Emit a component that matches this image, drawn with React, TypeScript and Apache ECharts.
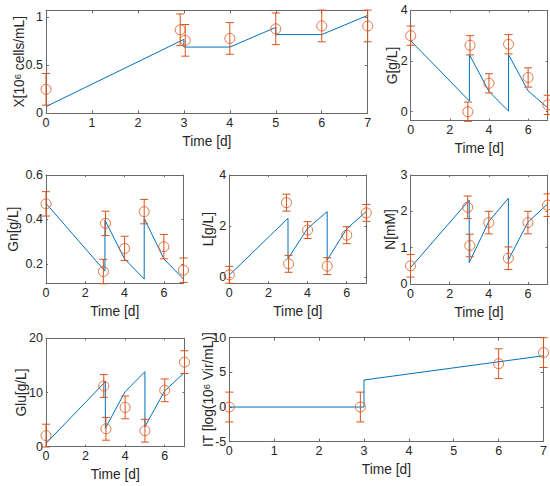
import React, { useEffect, useRef } from "react";
import * as echarts from "echarts";

// ---------- data ----------
const T_MODEL = [0, 3, 3, 4, 5, 5, 6, 7];
const T_OBS = [0, 2.92, 3.03, 4, 5, 6, 7];

const X_MODEL = [0.07, 0.77, 0.69, 0.69, 0.895, 0.82, 0.82, 1.02];
const X_OBS = [0.25, 0.87, 0.76, 0.78, 0.88, 0.91, 0.91];
const X_ERR = [0.165, 0.165, 0.165, 0.165, 0.165, 0.165, 0.165];

const G_MODEL = [2.8, 0.42, 2.25, 0.8, 0.02, 2.25, 0.82, 0.15];
const G_OBS = [3.0, 0.0, 2.62, 1.12, 2.66, 1.35, 0.27];
const G_ERR = [0.38, 0.38, 0.38, 0.38, 0.38, 0.38, 0.38];

const GN_MODEL = [0.472, 0.167, 0.397, 0.222, 0.131, 0.405, 0.222, 0.131];
const GN_OBS = [0.47, 0.165, 0.382, 0.269, 0.435, 0.277, 0.171];
const GN_ERR = [0.055, 0.055, 0.055, 0.055, 0.055, 0.055, 0.055];

const L_MODEL = [0.09, 2.31, 0.74, 1.91, 2.57, 0.68, 1.9, 2.57];
const L_OBS = [0.1, 2.92, 0.53, 1.85, 0.44, 1.65, 2.52];
const L_ERR = [0.33, 0.33, 0.33, 0.33, 0.33, 0.33, 0.33];

const N_MODEL = [0.45, 2.31, 0.59, 1.72, 2.36, 0.66, 1.7, 2.2];
const N_OBS = [0.5, 2.11, 1.06, 1.69, 0.71, 1.69, 2.17];
const N_ERR = [0.31, 0.31, 0.31, 0.31, 0.31, 0.31, 0.31];

const GLU_MODEL = [0.6, 12.0, 3.4, 10.15, 13.85, 3.7, 10.3, 13.7];
const GLU_OBS = [2.05, 11.2, 3.3, 7.25, 2.95, 10.4, 15.6];
const GLU_ERR = [2.1, 2.1, 2.1, 2.1, 2.1, 2.1, 2.1];

const T_IT_MODEL = [0, 3, 3, 7];
const IT_MODEL = [0, 0, 3.9, 7.4];
const T_IT_OBS = [0, 2.92, 6, 7];
const IT_OBS = [0, 0, 6.25, 7.85];
const IT_ERR = [2.15, 2.15, 2.15, 2.15];

const X_TICKS_FULL = [0, 1, 2, 3, 4, 5, 6, 7];
const X_TICKS_HALF = [0, 2, 4, 6];

const BLUE = "#0072BD";
const ORANGE = "#D95319";
const TEXT = "#262626";
const FRAME = "#6a6a6a";
const FONT = "Liberation Sans, Arial, Helvetica, sans-serif";

type Panel = {
  left: number; top: number; width: number; height: number;
  ymin: number; ymax: number; yTicks: number[]; xTicks: number[];
  yName: string; yGap: number; tickLen: number;
  tModel: number[]; yModel: number[]; tObs: number[]; yObs: number[]; err: number[];
};

const PANELS: Panel[] = [
  { left: 46, top: 10.3, width: 321.7, height: 103, ymin: 0, ymax: 1.073, yTicks: [0, 0.5, 1], xTicks: X_TICKS_FULL,
    yName: "X[10{sup|6} cells/mL]", yGap: 20, tickLen: 3,
    tModel: T_MODEL, yModel: X_MODEL, tObs: T_OBS, yObs: X_OBS, err: X_ERR },
  { left: 410.7, top: 10.3, width: 137, height: 110.4, ymin: -0.355, ymax: 4, yTicks: [0, 2, 4], xTicks: X_TICKS_HALF,
    yName: "G[g/L]", yGap: 11, tickLen: 2,
    tModel: T_MODEL, yModel: G_MODEL, tObs: T_OBS, yObs: G_OBS, err: G_ERR },
  { left: 46, top: 175, width: 137.5, height: 108.3, ymin: 0.112, ymax: 0.6, yTicks: [0.2, 0.4, 0.6], xTicks: X_TICKS_HALF,
    yName: "Gn[g/L]", yGap: 26, tickLen: 2,
    tModel: T_MODEL, yModel: GN_MODEL, tObs: T_OBS, yObs: GN_OBS, err: GN_ERR },
  { left: 229.3, top: 175, width: 137, height: 108.3, ymin: -0.23, ymax: 4, yTicks: [0, 2, 4], xTicks: X_TICKS_HALF,
    yName: "L[g/L]", yGap: 14, tickLen: 2,
    tModel: T_MODEL, yModel: L_MODEL, tObs: T_OBS, yObs: L_OBS, err: L_ERR },
  { left: 410.5, top: 175, width: 137, height: 109, ymin: 0, ymax: 3, yTicks: [0, 1, 2, 3], xTicks: X_TICKS_HALF,
    yName: "N[mM]", yGap: 13, tickLen: 2,
    tModel: T_MODEL, yModel: N_MODEL, tObs: T_OBS, yObs: N_OBS, err: N_ERR },
  { left: 46, top: 338.3, width: 138.5, height: 108.4, ymin: 0, ymax: 20, yTicks: [0, 10, 20], xTicks: X_TICKS_HALF,
    yName: "Glu[g/L]", yGap: 18, tickLen: 2,
    tModel: T_MODEL, yModel: GLU_MODEL, tObs: T_OBS, yObs: GLU_OBS, err: GLU_ERR },
  { left: 229.3, top: 337.7, width: 316.4, height: 104, ymin: -5, ymax: 10, yTicks: [-5, 0, 5, 10], xTicks: X_TICKS_FULL,
    yName: "IT [log(10{sup|6} Vir/mL)]", yGap: 14, tickLen: 3,
    tModel: T_IT_MODEL, yModel: IT_MODEL, tObs: T_IT_OBS, yObs: IT_OBS, err: IT_ERR },
];

function buildOption() {
  const grid: any[] = [];
  const xAxis: any[] = [];
  const yAxis: any[] = [];
  const series: any[] = [];

  PANELS.forEach((p, i) => {
    grid.push({ left: p.left, top: p.top, width: p.width, height: p.height, containLabel: false });
    const lineStyle = { color: FRAME, width: 1 };
    const tick = (vals: number[]) => ({ show: true, inside: true, length: p.tickLen, customValues: vals, lineStyle: { color: FRAME, width: 1 } });
    xAxis.push({
      type: "value", gridIndex: i, min: 0, max: 7, position: "bottom",
      axisLine: { show: true, onZero: false, lineStyle },
      axisTick: tick(p.xTicks),
      axisLabel: { show: true, customValues: p.xTicks, margin: 3, color: TEXT, fontSize: 12.5, fontFamily: FONT },
      splitLine: { show: false },
      name: "Time [d]", nameLocation: "middle", nameGap: 21, nameMoveOverlap: false,
      nameTextStyle: { color: TEXT, fontSize: 13.75, fontFamily: FONT },
    });
    xAxis.push({
      type: "value", gridIndex: i, min: 0, max: 7, position: "top",
      axisLine: { show: true, onZero: false, lineStyle },
      axisTick: tick(p.xTicks),
      axisLabel: { show: false },
      splitLine: { show: false },
    });
    yAxis.push({
      type: "value", gridIndex: i, min: p.ymin, max: p.ymax, position: "left",
      axisLine: { show: true, onZero: false, lineStyle },
      axisTick: tick(p.yTicks),
      axisLabel: { show: true, customValues: p.yTicks, margin: 3, color: TEXT, fontSize: 12.5, fontFamily: FONT },
      splitLine: { show: false },
      name: p.yName, nameLocation: "middle", nameGap: p.yGap, nameMoveOverlap: false,
      nameTextStyle: {
        color: TEXT, fontSize: 13.75, fontFamily: FONT,
        rich: { sup: { fontSize: 9.5, fontFamily: FONT, color: TEXT, verticalAlign: "top", lineHeight: 10 } },
      },
    });
    yAxis.push({
      type: "value", gridIndex: i, min: p.ymin, max: p.ymax, position: "right",
      axisLine: { show: true, onZero: false, lineStyle },
      axisTick: tick(p.yTicks),
      axisLabel: { show: false },
      splitLine: { show: false },
    });

    series.push({
      type: "line", xAxisIndex: 2 * i, yAxisIndex: 2 * i,
      data: p.tModel.map((t, k) => [t, p.yModel[k]]),
      showSymbol: false, symbol: "none",
      lineStyle: { color: BLUE, width: 1 },
      silent: true, z: 2,
    });
    series.push({
      type: "custom", xAxisIndex: 2 * i, yAxisIndex: 2 * i,
      data: p.tObs.map((t, k) => [t, p.yObs[k], p.err[k]]),
      renderItem: (_params: any, api: any) => {
        const x = api.value(0), y = api.value(1), e = api.value(2);
        const a = api.coord([x, y + e]);
        const b = api.coord([x, y - e]);
        const hw = 4;
        const st = { stroke: ORANGE, lineWidth: 1, fill: "none" };
        return {
          type: "group",
          children: [
            { type: "line", shape: { x1: a[0], y1: a[1], x2: b[0], y2: b[1] }, style: st },
            { type: "line", shape: { x1: a[0] - hw, y1: a[1], x2: a[0] + hw, y2: a[1] }, style: st },
            { type: "line", shape: { x1: b[0] - hw, y1: b[1], x2: b[0] + hw, y2: b[1] }, style: st },
          ],
        };
      },
      silent: true, z: 3,
    });
    series.push({
      type: "scatter", xAxisIndex: 2 * i, yAxisIndex: 2 * i,
      data: p.tObs.map((t, k) => [t, p.yObs[k]]),
      symbol: "circle", symbolSize: 10,
      itemStyle: { color: "rgba(0,0,0,0)", borderColor: ORANGE, borderWidth: 1 },
      clip: false, silent: true, z: 4,
    });
  });

  return {
    animation: false,
    backgroundColor: "#ffffff",
    textStyle: { fontFamily: FONT },
    grid, xAxis, yAxis, series,
  };
}

export default function App() {
  const ref = useRef<HTMLDivElement>(null);
  useEffect(() => {
    if (!ref.current) return;
    const chart = echarts.init(ref.current, undefined, { renderer: "svg" });
    chart.setOption(buildOption() as any);
    return () => chart.dispose();
  }, []);
  return (
    <div
      ref={ref}
      style={{ position: "fixed", left: 0, top: 0, width: 550, height: 486, background: "#fff" }}
    />
  );
}
